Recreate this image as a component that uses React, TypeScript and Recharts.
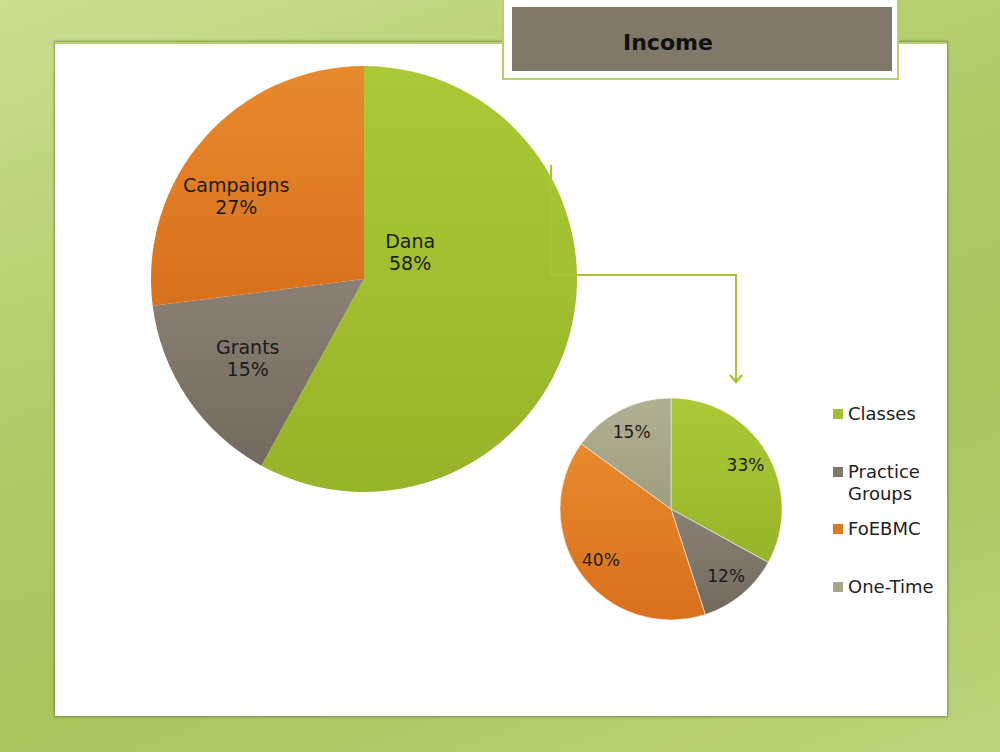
import React from 'react';
import { PieChart, Pie, Cell } from 'recharts';

// Income split (big pie)
const incomeNames = ['Dana', 'Grants', 'Campaigns'];
const incomeValues = [58, 15, 27];

// Breakdown of Dana (small pie)
const danaNames = ['Classes', 'Practice Groups', 'FoEBMC', 'One-Time'];
const danaValues = [33, 12, 40, 15];

const incomeData = incomeNames.map((name, i) => ({ name, value: incomeValues[i] }));
const danaData = danaNames.map((name, i) => ({ name, value: danaValues[i] }));

const INCOME_COLORS = ['green', 'gray', 'orange'];
const DANA_COLORS = ['green', 'gray', 'orange', 'olive'];

const GRADS: Record<string, [string, string]> = {
  green: ['#abc935', '#97b42a'],
  gray: ['#8a8174', '#726a5e'],
  orange: ['#e88a2e', '#d8701c'],
  olive: ['#b1b093', '#9e9d80'],
};
const SWATCH: Record<string, string> = {
  green: '#a0c030',
  gray: '#7f776b',
  orange: '#e07a22',
  olive: '#a8a78a',
};

const RADIAN = Math.PI / 180;
const FONT = '"DejaVu Sans", sans-serif';

// label placement: [radius fraction, angle override (deg, recharts convention) or null]
const BIG_LABEL_POS: [number, number | null][] = [
  [0.25, 30],
  [0.66, null],
  [0.715, 147],
];

const renderBigLabel = (props: any) => {
  const { cx, cy, midAngle, outerRadius, percent, index, name } = props;
  const [f, ang] = BIG_LABEL_POS[index];
  const a = ang == null ? midAngle : ang;
  const r = outerRadius * f;
  const x = cx + r * Math.cos(-a * RADIAN);
  const y = cy + r * Math.sin(-a * RADIAN);
  return (
    <text x={x} y={y} textAnchor="middle" fill="#1c1c1c" fontFamily={FONT} fontSize={19}>
      <tspan x={x} dy={-4}>{name}</tspan>
      <tspan x={x} dy={22}>{`${Math.round(percent * 100)}%`}</tspan>
    </text>
  );
};

const renderSmallLabel = (props: any) => {
  const { cx, cy, midAngle, outerRadius, percent } = props;
  const r = outerRadius * 0.78;
  const x = cx + r * Math.cos(-midAngle * RADIAN);
  const y = cy + r * Math.sin(-midAngle * RADIAN);
  return (
    <text
      x={x}
      y={y}
      textAnchor="middle"
      dominantBaseline="central"
      fill="#1c1c1c"
      fontFamily={FONT}
      fontSize={17}
    >
      {`${Math.round(percent * 100)}%`}
    </text>
  );
};

const DanaLegend = () => (
  <div style={{ position: 'absolute', left: 833, top: 403, fontFamily: FONT, fontSize: 18, color: '#222' }}>
    {danaData.map((d, i) => (
      <div key={d.name} style={{ height: 57.5, display: 'flex', alignItems: 'flex-start' }}>
        <span
          style={{
            width: 10,
            height: 10,
            marginTop: 6,
            marginRight: 5,
            background: SWATCH[DANA_COLORS[i]],
            flex: 'none',
          }}
        />
        <span style={{ lineHeight: '22px', width: 90 }}>{d.name}</span>
      </div>
    ))}
  </div>
);

export default function App() {
  return (
    <div
      style={{
        position: 'absolute',
        left: 0,
        top: 0,
        width: 1000,
        height: 752,
        overflow: 'hidden',
        background: 'linear-gradient(160deg, #cadf92 0%, #b3cd6c 35%, #a9c45c 65%, #bcd47c 100%)',
      }}
    >
      {/* white slide panel */}
      <div
        style={{
          position: 'absolute',
          left: 55,
          top: 42,
          width: 892,
          height: 672,
          background: '#ffffff',
          borderTop: '2px solid #b9d06e',
          boxShadow: '0 0 2px 1px rgba(80,90,50,0.55)',
        }}
      />
      {/* title box */}
      <div
        style={{
          position: 'absolute',
          left: 502,
          top: -3,
          width: 380,
          height: 64,
          padding: '10px 5px 7px 8px',
          background: '#ffffff',
          border: '2px solid #b7cf6c',
          borderTop: 'none',
        }}
      >
        <div
          style={{
            width: '100%',
            height: '100%',
            background: '#807869',
            position: 'relative',
          }}
        >
          <span
            style={{
              position: 'absolute',
              left: 111,
              top: 23,
              fontFamily: FONT,
              fontWeight: 'bold',
              fontSize: 22,
              color: '#111',
              lineHeight: '26px',
            }}
          >
            Income
          </span>
        </div>
      </div>

      <div style={{ position: 'absolute', left: 0, top: 0 }}>
        <PieChart width={1000} height={752} margin={{ top: 0, right: 0, bottom: 0, left: 0 }}>
          <defs>
            {Object.entries(GRADS).map(([k, [c1, c2]]) => (
              <linearGradient key={k} id={`g-${k}`} x1="0" y1="0" x2="0" y2="1">
                <stop offset="0%" stopColor={c1} />
                <stop offset="100%" stopColor={c2} />
              </linearGradient>
            ))}
          </defs>
          <Pie
            data={incomeData}
            dataKey="value"
            nameKey="name"
            cx={364}
            cy={279}
            outerRadius={213}
            startAngle={90}
            endAngle={-270}
            stroke="none"
            label={renderBigLabel}
            labelLine={false}
            isAnimationActive={false}
          >
            {incomeData.map((d, i) => (
              <Cell key={d.name} fill={`url(#g-${INCOME_COLORS[i]})`} />
            ))}
          </Pie>
          <Pie
            data={danaData}
            dataKey="value"
            nameKey="name"
            cx={671}
            cy={509}
            outerRadius={111}
            startAngle={90}
            endAngle={-270}
            stroke="rgba(255,255,255,0.5)"
            strokeWidth={1}
            label={renderSmallLabel}
            labelLine={false}
            isAnimationActive={false}
          >
            {danaData.map((d, i) => (
              <Cell key={d.name} fill={`url(#g-${DANA_COLORS[i]})`} />
            ))}
          </Pie>
        </PieChart>
      </div>

      {/* connector arrow from Dana to its breakdown */}
      <svg
        width={1000}
        height={752}
        style={{ position: 'absolute', left: 0, top: 0, pointerEvents: 'none' }}
      >
        <polyline
          points="551,165 551,275 736,275 736,382"
          fill="none"
          stroke="#a6c63a"
          strokeWidth={2}
        />
        <polyline points="730,375 736,382 742,375" fill="none" stroke="#a6c63a" strokeWidth={2.5} />
      </svg>

      <DanaLegend />
    </div>
  );
}
